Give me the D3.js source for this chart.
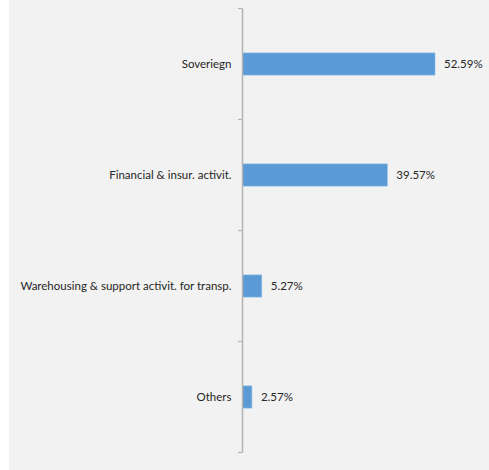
<!DOCTYPE html>
<html>
<head>
<meta charset="utf-8">
<script src="https://cdn.jsdelivr.net/npm/d3@7"></script>
<style>
  html, body { margin: 0; padding: 0; background: #ffffff; }
  svg { display: block; }
  text { font-family: Lato, "Open Sans", sans-serif; fill: #262626; }
</style>
</head>
<body>
<svg id="chart" width="489" height="470"></svg>
<script>
// Exposure by sector (share of total, %)
const categories = [
  "Soveriegn",
  "Financial & insur. activit.",
  "Warehousing & support activit. for transp.",
  "Others"
];
const shares = [52.59, 39.57, 5.27, 2.57];
const valueLabels = ["52.59%", "39.57%", "5.27%", "2.57%"];

const W = 489, H = 470;
const svg = d3.select("#chart");

// panel background
svg.append("rect")
  .attr("x", 9).attr("y", 0)
  .attr("width", W - 9).attr("height", H)
  .attr("fill", "#f2f2f2");

const axisX = 242.5;
const y = d3.scaleBand()
  .domain(categories)
  .range([8.5, 452.5])
  .paddingInner(0.8)
  .paddingOuter(0.4);

const x = d3.scaleLinear()
  .domain([0, 52.59])
  .range([axisX, 435]);

// bars
svg.append("g").selectAll("rect")
  .data(categories)
  .join("rect")
  .attr("x", axisX)
  .attr("y", d => y(d))
  .attr("width", (d, i) => x(shares[i]) - axisX)
  .attr("height", y.bandwidth())
  .attr("fill", "#5b9bd5")
  .attr("stroke", "#8fbde6")
  .attr("stroke-width", 0.6);

// category axis with boundary ticks
const boundaries = d3.range(categories.length + 1)
  .map(i => 8.5 + i * (452.5 - 8.5) / categories.length);
const axisG = svg.append("g");
axisG.append("line")
  .attr("x1", axisX).attr("x2", axisX)
  .attr("y1", boundaries[0]).attr("y2", boundaries[boundaries.length - 1])
  .attr("stroke", "#b3b3b3").attr("stroke-width", 1.5);
axisG.selectAll("line.tick")
  .data(boundaries)
  .join("line")
  .attr("class", "tick")
  .attr("x1", axisX - 4.5).attr("x2", axisX)
  .attr("y1", d => d).attr("y2", d => d)
  .attr("stroke", "#b3b3b3").attr("stroke-width", 1.2);

// category labels
svg.append("g").selectAll("text")
  .data(categories)
  .join("text")
  .attr("x", axisX - 11)
  .attr("y", d => y(d) + y.bandwidth() / 2)
  .attr("dy", "0.35em")
  .attr("text-anchor", "end")
  .attr("font-size", 11.5)
  .text(d => d);

// value labels
svg.append("g").selectAll("text")
  .data(categories)
  .join("text")
  .attr("x", (d, i) => x(shares[i]) + 9)
  .attr("y", d => y(d) + y.bandwidth() / 2)
  .attr("dy", "0.35em")
  .attr("font-size", 11.5)
  .text((d, i) => valueLabels[i]);
</script>
</body>
</html>
